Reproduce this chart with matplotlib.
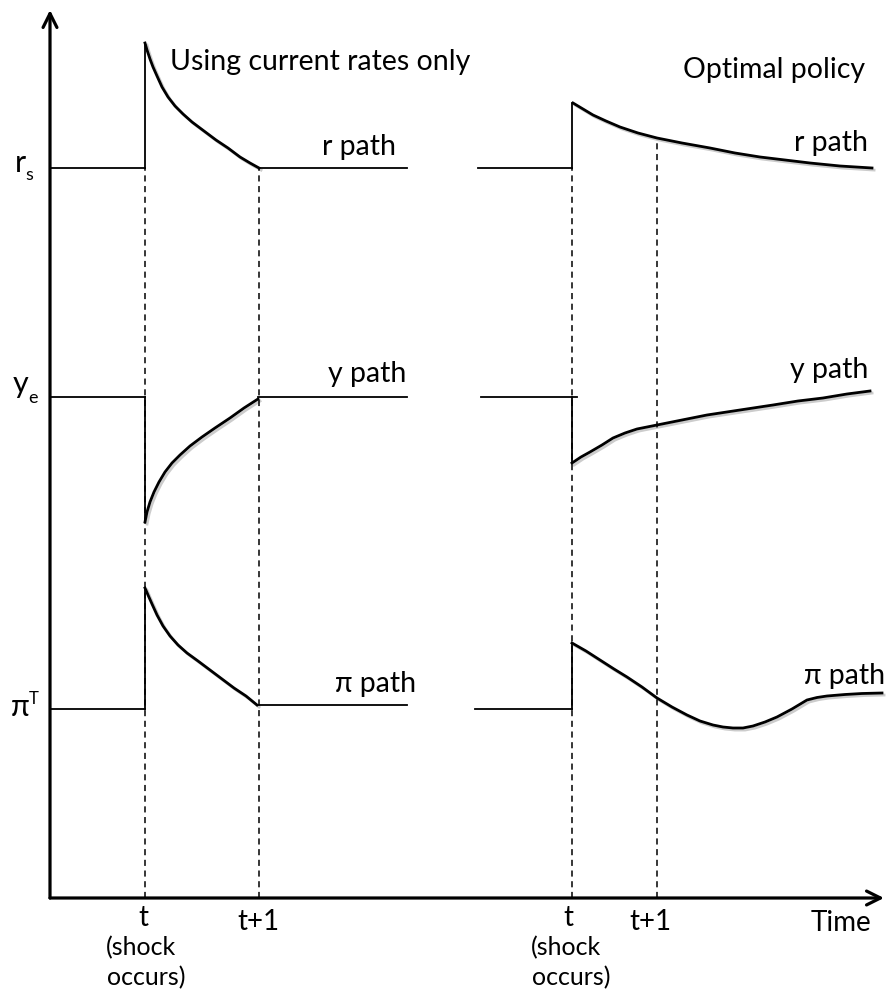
import matplotlib
matplotlib.use("Agg")
import matplotlib.pyplot as plt
import matplotlib.patheffects as pe

plt.rcParams['font.family'] = ['Lato', 'DejaVu Sans']

# steady-state levels
R_S = 730
Y_E = 501
PI_T = 189

# shock / next-period times, left and right panels
t_left = [95, 209]
t_right = [522, 607]

# left panel: using current rates only
left_r_x = [95, 97, 100, 103, 107, 112, 118, 125, 133, 142, 154, 166, 178, 190, 200, 209]
left_r_y = [855, 848, 839, 831, 822, 811, 801, 792, 784, 776, 767, 758, 750, 741, 735, 730]
left_y_x = [95, 97, 100, 104, 109, 115, 122, 130, 140, 152, 165, 180, 194, 208]
left_y_y = [376, 386, 396, 406, 416, 426, 435, 443, 452, 461, 470, 480, 490, 499]
left_pi_x = [95, 98, 102, 107, 113, 120, 128, 137, 148, 160, 172, 184, 196, 207]
left_pi_y = [310, 303, 294, 283, 272, 262, 253, 245, 237, 228, 219, 210, 202, 193]
left_pi_after = 193

# right panel: optimal policy
right_r_x = [523, 533, 543, 556, 570, 588, 607, 632, 660, 685, 710, 735, 760, 790, 822]
right_r_y = [795, 789, 783, 777, 771, 765, 760, 755, 750, 745, 741, 738, 735, 732, 730]
right_y_x = [522, 531, 540, 552, 563, 575, 587, 597, 607, 632, 657, 690, 723, 748, 773, 797, 820]
right_y_y = [435, 441, 446, 453, 460, 465, 469, 471, 473, 478, 483, 488, 493, 497, 500, 504, 507]
right_pi_x = [522, 536, 550, 564, 577, 592, 607, 622, 637, 650, 663, 673, 683, 693, 703,
              715, 727, 742, 757, 767, 777, 795, 812, 832]
right_pi_y = [255, 247, 238, 229, 221, 211, 200, 191, 183, 177, 173, 171, 170, 170, 172,
              176, 181, 189, 198, 200.5, 202, 203.5, 204.5, 205]

# baseline spans (start, end) before shock
left_base = [0, 95]
left_flat_end = 357
right_base_r = [428, 522]
right_base_y = [431, 527]
right_base_pi = [425, 522]

fig = plt.figure(figsize=(8.91, 9.97), dpi=100)
ax = fig.add_axes([0, 0, 1, 1])
ax.set_xlim(-50, 841)
ax.set_ylim(-99, 898)
ax.axis('off')

shadow = [pe.SimpleLineShadow(offset=(1.5, -1.5), alpha=0.2), pe.Normal()]
thin = dict(color='black', lw=1.3)
thick = dict(color='black', lw=2.0, path_effects=shadow, solid_joinstyle='round')

# axes with arrows
ax.annotate('', xy=(0, 888), xytext=(0, 0),
            arrowprops=dict(arrowstyle='->', lw=2.3, mutation_scale=25, color='black',
                            shrinkA=0, shrinkB=0))
ax.annotate('', xy=(834, 0), xytext=(0, 0),
            arrowprops=dict(arrowstyle='->', lw=2.3, mutation_scale=25, color='black',
                            shrinkA=0, shrinkB=0))

# dashed time markers
ax.vlines(t_left, 0, [R_S, R_S], colors='black', linestyles=(0, (4, 3)), lw=1.1)
ax.vlines(t_right, 0, [R_S, right_r_y[6]], colors='black', linestyles=(0, (4, 3)), lw=1.1)

# left panel
for level, xs, ys, after in [(R_S, left_r_x, left_r_y, R_S),
                             (Y_E, left_y_x, left_y_y, Y_E),
                             (PI_T, left_pi_x, left_pi_y, left_pi_after)]:
    ax.plot(left_base, [level, level], **thin)
    ax.plot([t_left[0], t_left[0]], [level, ys[0]], **thin)
    ax.plot(xs, ys, **thick)
    ax.plot([xs[-1], left_flat_end], [after, after], **thin)

# right panel
for base, level, xs, ys in [(right_base_r, R_S, right_r_x, right_r_y),
                            (right_base_y, Y_E, right_y_x, right_y_y),
                            (right_base_pi, PI_T, right_pi_x, right_pi_y)]:
    ax.plot(base, [level, level], **thin)
    ax.plot([t_right[0], t_right[0]], [level, ys[0]], **thin)
    ax.plot(xs, ys, **thick)

# titles
ax.text(120, 836, 'Using current rates only', fontsize=20.5, va='center', ha='left')
ax.text(815, 828, 'Optimal policy', fontsize=20.5, va='center', ha='right')

# path labels
ax.text(272, 743, 'r path', fontsize=20.5, va='baseline')
ax.text(818, 747, 'r path', fontsize=20.5, va='baseline', ha='right')
ax.text(278, 516, 'y path', fontsize=20.5, va='baseline')
ax.text(818, 520, 'y path', fontsize=20.5, va='baseline', ha='right')
ax.text(285, 206, 'π path', fontsize=20.5, va='baseline')
ax.text(835, 214, 'π path', fontsize=20.5, va='baseline', ha='right')

# y-axis level labels
ax.text(-30, 726, 'r', fontsize=22, va='baseline', ha='center')
ax.text(-21, 718, 's', fontsize=13, va='baseline', ha='center')
ax.text(-29, 505, 'y', fontsize=22, va='baseline', ha='center')
ax.text(-17, 495, 'e', fontsize=13, va='baseline', ha='center')
ax.text(-30, 182, 'π', fontsize=22, va='baseline', ha='center')
ax.text(-16, 194, 'T', fontsize=12, va='baseline', ha='center')

# x-axis labels
for tx, tn in [(t_left[0], t_left[1] - 1), (t_right[0] - 2, t_right[1] - 7)]:
    ax.text(tx - 2, -20, 't', fontsize=20, va='center', ha='center')
    ax.text(tx - 4, -50, '(shock', fontsize=18, va='center', ha='center')
    ax.text(tx + 1, -80, 'occurs)', fontsize=18, va='center', ha='center')
    ax.text(tn, -24, 't+1', fontsize=20, va='center', ha='center')
ax.text(791, -25, 'Time', fontsize=20, va='center', ha='center')

fig.savefig('out.png', dpi=100, facecolor='white')
